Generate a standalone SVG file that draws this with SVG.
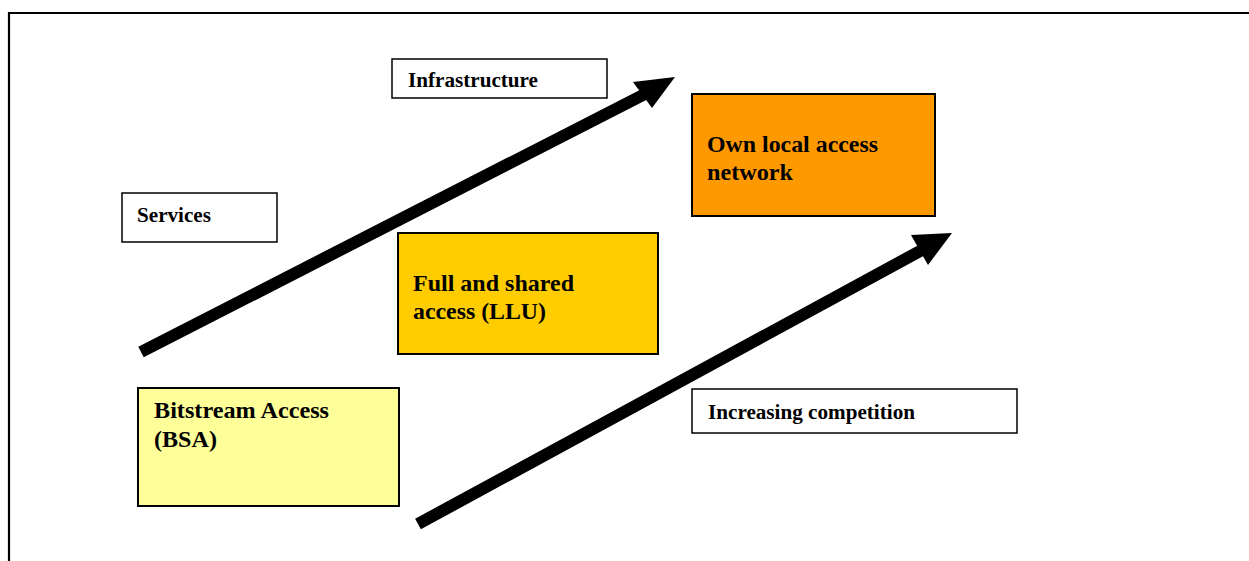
<svg xmlns="http://www.w3.org/2000/svg" width="1249" height="561" viewBox="0 0 1249 561">
<style>
.box{stroke:#000;stroke-width:2}
.lbl{fill:#fff;stroke:#000;stroke-width:1.5}
.t{font-family:"Liberation Serif","Times New Roman",serif;font-weight:bold;fill:#000}
.s{font-size:20.5px}
.b{font-size:23px}
.arrow{stroke:#000;stroke-width:12;fill:none}
</style>
<rect x="0" y="0" width="1249" height="561" fill="#fff"/>
<path d="M9,561 V13 H1249" fill="none" stroke="#000" stroke-width="2.2"/>
<g id="connectors">
<line class="arrow" x1="141" y1="352" x2="645" y2="94"/>
<polygon points="675,77 633,82 652,108" fill="#000"/>
<line class="arrow" x1="418" y1="524" x2="922" y2="250"/>
<polygon points="952,233 911,235 928,265" fill="#000"/>
</g>
<g id="infrastructure">
<rect class="lbl" x="392" y="59" width="215" height="39"/>
<text class="t s" x="408" y="87" textLength="130" lengthAdjust="spacingAndGlyphs">Infrastructure</text>
</g>
<g id="services">
<rect class="lbl" x="122" y="193" width="155" height="49"/>
<text class="t s" x="137" y="222" textLength="74" lengthAdjust="spacingAndGlyphs">Services</text>
</g>
<g id="own-network">
<rect class="box" x="692" y="94" width="243" height="122" fill="#FF9900"/>
<text class="t b" x="707" y="152" textLength="171" lengthAdjust="spacingAndGlyphs">Own local access</text>
<text class="t b" x="707" y="180" textLength="86" lengthAdjust="spacingAndGlyphs">network</text>
</g>
<g id="llu">
<rect class="box" x="398" y="233" width="260" height="121" fill="#FFCC00"/>
<text class="t b" x="413" y="291" textLength="161" lengthAdjust="spacingAndGlyphs">Full and shared</text>
<text class="t b" x="413" y="319" textLength="133" lengthAdjust="spacingAndGlyphs">access (LLU)</text>
</g>
<g id="bsa">
<rect class="box" x="138" y="388" width="261" height="118" fill="#FFFF99"/>
<text class="t b" x="154" y="418" textLength="175" lengthAdjust="spacingAndGlyphs">Bitstream Access</text>
<text class="t b" x="154" y="447" textLength="63" lengthAdjust="spacingAndGlyphs">(BSA)</text>
</g>
<g id="competition">
<rect class="lbl" x="692" y="389" width="325" height="44"/>
<text class="t s" x="708" y="419" textLength="207" lengthAdjust="spacingAndGlyphs">Increasing competition</text>
</g>
</svg>
